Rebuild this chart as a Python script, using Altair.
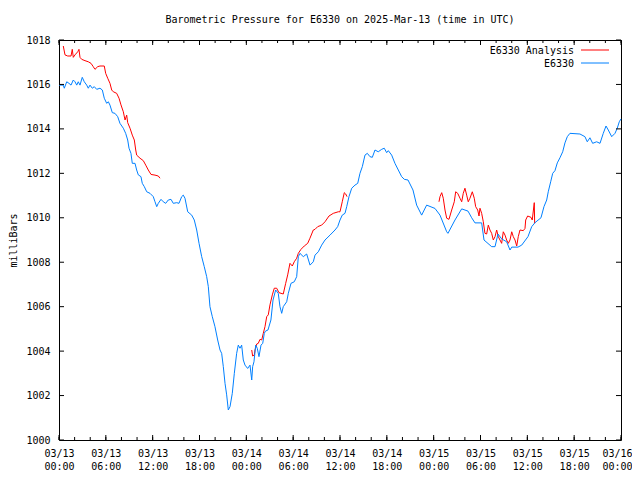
import altair as alt
import pandas as pd

TITLE = "Barometric Pressure for E6330 on 2025-Mar-13 (time in UTC)"
Y_TITLE = "milliBars"
SERIES = ["E6330 Analysis", "E6330"]
COLORS = ["#ff0000", "#0080ff"]
START = "2025-03-13T00:00:00Z"
MONO = "DejaVu Sans Mono"

# E6330 observations: hours since 03/13 00:00 UTC, pressure in mbar
obs_hours = [
    0.00, 0.55, 0.68, 0.99, 1.28, 1.54, 1.83, 2.05, 2.27, 2.47,
    2.69, 2.98, 3.24, 3.55, 3.75, 3.97, 4.27, 4.52, 4.83, 5.25,
    5.55, 5.80, 6.11, 6.32, 6.53, 6.83, 7.17, 7.52, 7.81, 8.24,
    8.54, 8.80, 8.97, 9.22, 9.39, 9.74, 9.95, 10.16, 10.50, 10.67,
    10.93, 11.24, 11.66, 12.08, 12.30, 12.52, 12.72, 13.07, 13.36, 13.67,
    14.00, 14.35, 14.64, 15.08, 15.37, 15.72, 15.92, 16.14, 16.49, 17.00,
    17.33, 17.64, 17.94, 18.28, 18.61, 18.92, 19.13, 19.34, 19.64, 19.98,
    20.33, 20.63, 20.84, 21.05, 21.27, 21.48, 21.69, 21.91, 22.20, 22.46,
    22.76, 22.97, 23.19, 23.40, 23.61, 23.83, 24.17, 24.47, 24.69, 24.81,
    24.98, 25.20, 25.40, 25.62, 25.88, 26.10, 26.30, 26.45, 26.77, 27.15,
    27.42, 27.76, 28.09, 28.31, 28.53, 28.73, 29.17, 29.38, 29.72, 30.14,
    30.45, 30.66, 30.87, 31.30, 31.73, 32.16, 32.58, 32.80, 33.22, 33.65,
    34.08, 34.72, 35.36, 35.70, 36.00, 36.29, 36.64, 36.86, 37.15, 37.50,
    37.92, 38.27, 38.56, 38.86, 39.20, 39.50, 39.84, 40.14, 40.48, 40.90,
    41.34, 41.67, 41.98, 42.19, 42.62, 43.04, 43.47, 43.90, 44.24, 44.71,
    45.35, 45.82, 46.46, 47.10, 48.17, 48.81, 49.67, 49.83, 50.73, 51.59,
    52.40, 52.87, 53.29, 54.15, 54.45, 55.43, 55.86, 56.24, 56.71, 57.35,
    57.78, 58.00, 58.80, 59.28, 60.08, 60.56, 60.98, 61.75, 62.13, 62.48,
    62.68, 62.99, 63.25, 63.54, 63.84, 64.18, 64.53, 64.82, 65.12, 65.46,
    66.74, 67.38, 67.68, 68.02, 68.37, 68.88, 69.31, 69.73, 70.08, 70.37,
    70.81, 71.23, 71.52, 71.78, 72.00,
]
obs_mbar = [
    1015.97, 1015.97, 1015.83, 1016.12, 1016.05, 1015.97, 1016.20, 1016.12, 1015.97, 1016.12,
    1015.97, 1016.32, 1016.12, 1015.97, 1015.83, 1015.97, 1015.83, 1015.90, 1015.78, 1015.83,
    1015.75, 1015.38, 1015.15, 1015.22, 1015.07, 1014.73, 1014.70, 1014.55, 1014.25, 1014.03,
    1013.80, 1013.50, 1013.13, 1012.90, 1012.45, 1012.45, 1012.15, 1011.93, 1011.85, 1011.55,
    1011.40, 1011.17, 1011.10, 1010.95, 1010.72, 1010.50, 1010.65, 1010.83, 1010.72, 1010.65,
    1010.80, 1010.83, 1010.65, 1010.68, 1010.65, 1010.95, 1011.02, 1010.88, 1010.27, 1010.12,
    1009.90, 1009.45, 1008.85, 1008.25, 1007.80, 1007.35, 1006.90, 1006.00, 1005.55, 1005.10,
    1004.50, 1004.05, 1003.90, 1003.30, 1002.55, 1002.03, 1001.35, 1001.50, 1002.10, 1003.00,
    1003.90, 1004.27, 1004.13, 1004.27, 1003.60, 1003.37, 1003.22, 1003.37, 1002.70, 1003.30,
    1003.52, 1004.27, 1004.13, 1003.75, 1004.27, 1004.35, 1004.80, 1004.90, 1004.95, 1005.40,
    1006.30, 1006.75, 1006.60, 1006.00, 1005.70, 1006.00, 1006.22, 1006.60, 1007.05, 1007.12,
    1007.35, 1008.25, 1008.40, 1008.25, 1008.37, 1007.87, 1008.02, 1008.32, 1008.47, 1008.77,
    1009.00, 1009.22, 1009.45, 1009.60, 1009.90, 1010.12, 1010.20, 1010.50, 1010.95, 1011.33,
    1011.47, 1011.55, 1012.00, 1012.30, 1012.82, 1012.90, 1012.75, 1012.72, 1013.05, 1012.97,
    1013.08, 1013.13, 1012.93, 1013.02, 1012.82, 1012.45, 1012.15, 1011.85, 1011.73, 1011.70,
    1011.25, 1010.57, 1010.12, 1010.57, 1010.42, 1010.12, 1009.37, 1009.30, 1009.90, 1010.40,
    1010.30, 1010.00, 1009.77, 1009.77, 1009.00, 1008.70, 1008.70, 1009.27, 1009.05, 1008.92,
    1008.55, 1008.68, 1008.68, 1008.77, 1009.15, 1009.60, 1009.78, 1010.00, 1010.50, 1010.80,
    1011.17, 1011.62, 1012.00, 1012.12, 1012.47, 1012.70, 1012.97, 1013.37, 1013.65, 1013.80,
    1013.77, 1013.65, 1013.42, 1013.60, 1013.35, 1013.42, 1013.35, 1013.80, 1014.13, 1013.95,
    1013.65, 1013.80, 1014.03, 1014.32, 1014.45,
]

# E6330 Analysis: three runs separated by gaps
ana1_hours = [0.55, 0.77, 1.11, 1.54, 1.70, 1.83, 2.05, 2.40, 2.56, 2.69,
              2.91, 3.33, 3.75, 4.10, 4.39, 4.61, 4.96, 5.25, 5.80, 5.98,
              6.24, 6.53, 6.75, 6.96, 7.39, 7.69, 7.94, 8.24, 8.46, 8.67,
              8.80, 9.10, 9.39, 9.65, 9.83, 9.95, 10.38, 10.80, 11.11, 11.44,
              11.79, 12.30, 12.72, 12.94]
ana1_mbar = [1017.73, 1017.33, 1017.28, 1017.28, 1017.58, 1017.22, 1017.33, 1017.47, 1017.58, 1017.22,
             1017.13, 1017.07, 1017.02, 1016.95, 1016.80, 1016.68, 1016.80, 1016.83, 1016.83, 1016.50,
             1016.28, 1016.05, 1015.75, 1015.67, 1015.60, 1015.38, 1015.08, 1014.77, 1014.40, 1014.62,
             1014.28, 1014.03, 1013.72, 1013.50, 1013.05, 1012.82, 1012.68, 1012.57, 1012.37, 1012.15,
             1011.95, 1011.92, 1011.88, 1011.78]

ana2_hours = [24.69, 24.81, 25.02, 25.11, 25.33, 25.53, 25.75, 25.97, 26.17, 26.39,
              26.61, 26.81, 27.03, 27.33, 27.58, 27.89, 28.18, 28.73, 29.04, 29.30,
              29.59, 29.89, 30.14, 30.45, 30.66, 31.00, 31.42, 31.86, 32.15, 32.58,
              32.80, 33.14, 33.65, 34.08, 34.59, 35.14, 35.78, 36.00, 36.29, 36.55,
              36.73, 36.90]
ana2_mbar = [1004.05, 1003.78, 1003.82, 1004.05, 1004.32, 1004.35, 1004.53, 1004.50, 1004.80, 1005.10,
             1005.55, 1005.63, 1006.08, 1006.53, 1006.83, 1006.83, 1006.63, 1006.57, 1007.05, 1007.43,
             1007.95, 1007.83, 1008.02, 1008.18, 1008.40, 1008.58, 1008.73, 1008.85, 1009.08, 1009.45,
             1009.48, 1009.60, 1009.67, 1009.82, 1010.08, 1010.20, 1010.27, 1010.27, 1010.72, 1011.13,
             1011.07, 1010.95]

ana3_hours = [48.68, 48.81, 49.03, 49.23, 49.45, 49.67, 49.96, 50.31, 50.64, 50.82,
              51.08, 51.37, 51.59, 51.79, 52.01, 52.23, 52.43, 52.65, 52.95, 53.20,
              53.38, 53.64, 53.81, 53.93, 54.15, 54.36, 54.57, 54.79, 55.00, 55.21,
              55.43, 55.64, 55.86, 56.07, 56.28, 56.50, 56.71, 56.92, 57.14, 57.35,
              57.56, 57.78, 58.00, 58.20, 58.42, 58.64, 58.84, 59.06, 59.48, 59.70,
              59.79, 60.04, 60.47, 60.63, 60.89, 60.94]
ana3_mbar = [1010.72, 1010.95, 1011.13, 1010.88, 1010.35, 1009.98, 1009.93, 1010.35, 1010.72, 1011.17,
             1011.10, 1010.88, 1010.72, 1011.10, 1011.33, 1011.02, 1010.72, 1010.88, 1011.17, 1010.88,
             1010.50, 1010.35, 1010.08, 1010.43, 1010.20, 1009.82, 1009.30, 1009.27, 1009.67, 1009.45,
             1009.30, 1009.00, 1009.15, 1009.45, 1009.15, 1009.00, 1008.85, 1009.37, 1009.22, 1009.00,
             1008.85, 1009.00, 1009.37, 1009.15, 1009.00, 1008.73, 1009.15, 1009.45, 1009.42, 1009.52,
             1009.90, 1010.08, 1010.02, 1009.90, 1010.68, 1009.75]

Y_TICKS = list(range(1000, 1019, 2))
MAJOR_STEP_H = 6
MINOR_STEP_H = 2
SPAN_H = 72

start = pd.Timestamp(START)


def iso(hours):
    return [(start + pd.Timedelta(hours=h)).strftime("%Y-%m-%dT%H:%M:%SZ") for h in hours]


frames = []
for seg, (hh, pp, name) in enumerate([
    (ana1_hours, ana1_mbar, SERIES[0]),
    (ana2_hours, ana2_mbar, SERIES[0]),
    (ana3_hours, ana3_mbar, SERIES[0]),
    (obs_hours, obs_mbar, SERIES[1]),
]):
    assert len(hh) == len(pp)
    frames.append(pd.DataFrame({"time": iso(hh), "mbar": pp, "series": name, "seg": seg}))
data = pd.concat(frames, ignore_index=True)

major = pd.DataFrame({"time": iso(range(0, SPAN_H + 1, MAJOR_STEP_H))})
minor = pd.DataFrame({"time": iso(range(0, SPAN_H + 1, MINOR_STEP_H))})
yticks = pd.DataFrame({"mbar": Y_TICKS})

W, H = 562, 400

x_scale = alt.Scale(type="utc", domain=[START, iso([SPAN_H])[0]])
y_scale = alt.Scale(domain=[1000, 1018], nice=False, zero=False)

x_axis = alt.Axis(
    values=[alt.DateTime(year=2025, month=3, date=13 + h // 24, hours=h % 24, utc=True)
            for h in range(0, SPAN_H + 1, MAJOR_STEP_H)],
    labelExpr="[utcFormat(datum.value, '%m/%d'), utcFormat(datum.value, '%H:%M')]",
    ticks=False, domain=False, grid=False, title=None,
    labelFont=MONO, labelFontSize=10, labelColor="black",
    labelPadding=8, labelLineHeight=13, labelFlush=False, labelOverlap=False,
    labelBaseline="top",
    labelOffset={"condition": {"test": "datum.index >= 0.999", "value": -4}, "value": 0},
)
y_axis = alt.Axis(
    values=Y_TICKS, format="d", ticks=False, domain=False, grid=False,
    title=Y_TITLE, titleFont=MONO, titleFontSize=10, titleFontWeight="normal",
    titleColor="black", titlePadding=7,
    labelFont=MONO, labelFontSize=10, labelColor="black", labelPadding=9,
    labelFlush=False, labelOverlap=False,
)

lines = alt.Chart(data).mark_line(strokeWidth=1, interpolate="linear").encode(
    x=alt.X("time:T", scale=x_scale, axis=x_axis),
    y=alt.Y("mbar:Q", scale=y_scale, axis=y_axis),
    color=alt.Color("series:N", scale=alt.Scale(domain=SERIES, range=COLORS), legend=None),
    detail="seg:N",
    order=alt.Order("time:T"),
)

tick_layers = []
for df, length in [(major, 5), (minor, 3)]:
    tick_layers.append(alt.Chart(df).mark_rule(color="black", strokeWidth=1).encode(
        x=alt.X("time:T"), y=alt.value(H), y2=alt.value(H - length)))
    tick_layers.append(alt.Chart(df).mark_rule(color="black", strokeWidth=1).encode(
        x=alt.X("time:T"), y=alt.value(0), y2=alt.value(length)))
tick_layers.append(alt.Chart(yticks).mark_rule(color="black", strokeWidth=1).encode(
    y=alt.Y("mbar:Q"), x=alt.value(0), x2=alt.value(5)))
tick_layers.append(alt.Chart(yticks).mark_rule(color="black", strokeWidth=1).encode(
    y=alt.Y("mbar:Q"), x=alt.value(W), x2=alt.value(W - 5)))

legend_layers = []
for i, (name, col) in enumerate(zip(SERIES, COLORS)):
    ly = 10 + i * 13
    ldf = pd.DataFrame({"label": [name]})
    legend_layers.append(alt.Chart(ldf).mark_text(
        align="right", baseline="middle", font=MONO, fontSize=10, color="black"
    ).encode(x=alt.value(515), y=alt.value(ly + 1), text="label:N"))
    legend_layers.append(alt.Chart(ldf).mark_rule(color=col, strokeWidth=1).encode(
        x=alt.value(522), x2=alt.value(550), y=alt.value(ly)))

chart = alt.layer(lines, *tick_layers, *legend_layers).properties(
    width=W, height=H,
    autosize="none",
    padding={"left": 51, "top": 32, "right": 11, "bottom": 32},
    title=alt.TitleParams(text=TITLE, font=MONO, fontSize=10, fontWeight="normal",
                          color="black", anchor="middle", offset=10),
    background="white",
).configure_view(stroke="black", strokeWidth=1)

chart.save("out.html", embed_options={"renderer": "svg", "actions": False})
